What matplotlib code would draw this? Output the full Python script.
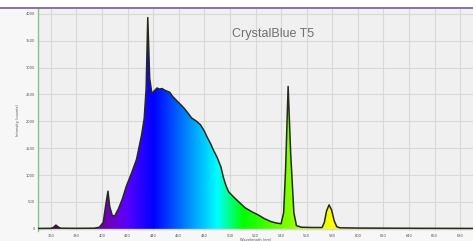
import numpy as np
import matplotlib
matplotlib.use("Agg")
import matplotlib.pyplot as plt
from matplotlib.lines import Line2D

# ---- data ----
title = "CrystalBlue T5"
x_ticks = [360, 380, 400, 420, 440, 460, 480, 500, 520, 540, 560, 580, 600, 620, 640, 660, 680]
y_ticks = [0, 500, 1000, 1500, 2000, 2500, 3000, 3500, 4000]
wavelength = [350, 360, 362, 364, 366, 368, 380, 394, 398, 401, 403, 404.7, 406, 408, 410,
              413, 416, 419, 423, 427, 431, 433, 434.5, 435.8, 437.3, 439, 441, 443, 445,
              447, 449, 451, 453, 455, 457, 459, 462, 464, 467, 470, 474, 477, 480, 482,
              485, 487, 490, 493, 495, 497, 499, 503, 507, 512, 517, 522, 527, 532, 536,
              540, 542, 543.5, 545.5, 547.5, 550, 552, 556, 565, 572, 573.8, 575.5, 577.5,
              579.5, 581.5, 583.5, 586, 600, 650, 690]
intensity = [8, 10, 25, 70, 30, 12, 10, 12, 30, 120, 450, 700, 420, 250, 240,
             380, 560, 790, 1030, 1290, 1750, 2050, 2600, 3930, 2800, 2520, 2570, 2620, 2600,
             2610, 2580, 2560, 2540, 2470, 2420, 2370, 2300, 2250, 2160, 2065, 2000, 1935, 1820, 1717,
             1580, 1470, 1330, 1150, 950, 800, 690, 590, 500, 390, 320, 260, 190, 136, 110,
             95, 300, 1100, 2650, 1400, 300, 60, 30, 25, 25, 120, 330, 446,
             350, 150, 40, 20, 15, 10, 8]


def wl_to_rgb(w):
    if w < 440:
        r, g, b = -(w - 440) / 60.0, 0.0, 1.0
    elif w < 490:
        r, g, b = 0.0, (w - 440) / 50.0, 1.0
    elif w < 510:
        r, g, b = 0.0, 1.0, -(w - 510) / 20.0
    elif w < 580:
        r, g, b = (w - 510) / 70.0, 1.0, 0.0
    elif w < 645:
        r, g, b = 1.0, -(w - 645) / 65.0, 0.0
    else:
        r, g, b = 1.0, 0.0, 0.0
    if w < 380:
        f = 0.3
    elif w < 420:
        f = 0.3 + 0.7 * (w - 380) / 40.0
    else:
        f = 1.0
    return [min(max(c, 0), 1) * f for c in (r, g, b)]


fig = plt.figure(figsize=(4.73, 2.41), dpi=100, facecolor="#f7f7f7")
ax = fig.add_axes([38 / 473, 1 - 231 / 241, 1 - 38 / 473, (231 - 9) / 241])
ax.set_facecolor("#f0f0f0")

xmin, xmax, ymin, ymax = 350, 690, -40, 4090
ax.set_xlim(xmin, xmax)
ax.set_ylim(ymin, ymax)

# spectral gradient clipped to the area under the curve (down to zero)
grad_x = np.linspace(xmin, xmax, 700)
img = np.array([[wl_to_rgb(w) for w in grad_x]])
poly = ax.fill_between(wavelength, intensity, 0, color="none", lw=0)
im = ax.imshow(img, extent=[xmin, xmax, ymin, ymax], aspect="auto", zorder=2,
               interpolation="bilinear")
clip = poly.get_paths()[0]
im.set_clip_path(clip, transform=ax.transData)
ax.plot(wavelength, intensity, color="#262a1c", lw=1.1, zorder=3)

ax.set_xticks(x_ticks)
ax.set_yticks(y_ticks)
ax.grid(True, color="#d8d8d8", lw=0.8, zorder=0)
ax.set_axisbelow(True)
ax.tick_params(length=0, labelsize=2.6, labelcolor="#555555", pad=2)
for s in ["top", "right", "bottom"]:
    ax.spines[s].set_visible(False)
ax.spines["left"].set_color("#8fbf8f")
ax.spines["left"].set_linewidth(1.0)
ax.set_xlabel("Wavelength (nm)", fontsize=2.6, color="#555555", labelpad=0)
ax.set_ylabel("Intensity (counts)", fontsize=2.6, color="#555555", labelpad=4)

fig.text(273 / 473, 1 - 34 / 241, title, ha="center", va="center", fontsize=9,
         color="#707070", family=["Liberation Sans", "DejaVu Sans"])

# top white band with purple rule
fig.patches.append(plt.Rectangle((0, 1 - 8 / 241), 1, 8 / 241, transform=fig.transFigure,
                                 facecolor="white", edgecolor="none", zorder=5))
fig.lines.append(Line2D([0, 1], [1 - 8.3 / 241] * 2, transform=fig.transFigure,
                        color="#8462ac", lw=1.3, zorder=6))

fig.savefig("out.png", dpi=100, facecolor=fig.get_facecolor())
